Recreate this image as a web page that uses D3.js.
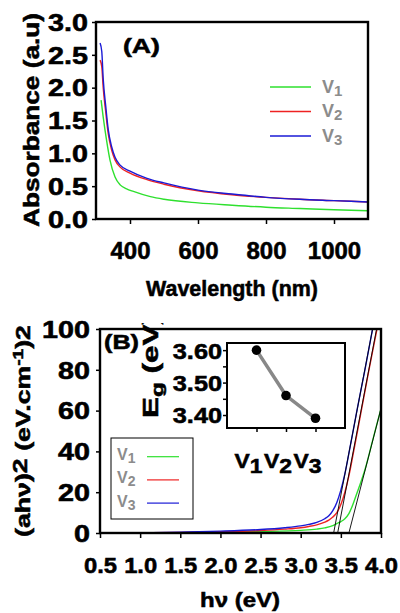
<!DOCTYPE html>
<html><head><meta charset="utf-8">
<script src="https://cdn.jsdelivr.net/npm/d3@7"></script>
<style>
body{margin:0;background:#fff;}
svg text{font-family:"Liberation Sans",Arial,sans-serif;font-weight:bold;}
svg text.heavy{stroke:#000;stroke-width:0.55px;}
</style></head><body>
<svg id="c" width="400" height="613"></svg>
<script>
// ---------- Panel A data ----------
const seriesNames = ["V1","V2","V3"];
const wlV1  = [315,321,331,341,356,371,390,410,460,500,600,700,800,900,1000,1100];
const absV1 = [1.81,1.56,1.20,0.90,0.64,0.52,0.46,0.42,0.34,0.30,0.245,0.21,0.18,0.16,0.14,0.125];
const wlV23 = [312,317,321,329,336,346,356,371,400,450,500,600,700,800,900,1000,1100];
const absV2 = [2.42,2.32,2.01,1.61,1.30,1.05,0.90,0.79,0.70,0.60,0.53,0.43,0.37,0.33,0.30,0.28,0.26];
const absV3 = [2.68,2.55,2.15,1.70,1.36,1.10,0.94,0.82,0.73,0.62,0.55,0.44,0.38,0.33,0.30,0.28,0.26];
const absTicks = [0,0.5,1.0,1.5,2.0,2.5,3.0];
const wlTicks = [400,600,800,1000];

// ---------- Panel B data ----------
const eV1 = [1.15,1.5,2.0,2.5,3.0,3.2,3.3,3.4,3.45,3.5,3.55,3.6,3.65,3.7,3.75,3.8,3.9,4.0];
const tV1 = [0.05,0.15,0.35,0.7,1.3,1.9,2.5,3.6,4.6,5.6,7.0,9.5,14,19.5,25,31,46,61];
const eV2 = [1.15,1.5,2.0,2.5,2.8,3.0,3.1,3.2,3.3,3.35,3.4,3.45,3.5,3.55,3.6,3.65,3.75,3.85,3.95,4.0];
const tV2 = [0.1,0.3,0.6,1.2,1.9,2.6,3.2,4.0,5.3,6.3,7.8,10,14,20,28,38,59,80,100,110];
const eV3 = [1.15,1.5,2.0,2.5,2.8,3.0,3.1,3.2,3.3,3.35,3.4,3.45,3.5,3.55,3.6,3.7,3.8,3.9,3.95];
const tV3 = [0.2,0.45,0.9,1.7,2.6,3.5,4.2,5.2,7.0,8.5,11,15,21,29,39,60,80,101,111];
const tangentStartE = [3.60,3.46,3.41];
const tangentEndE   = [4.0,3.945,3.895];
const tangentEndY   = [61,100,100];
const tVTicks = [0,20,40,60,80,100];
const eTicks = [0.5,1.0,1.5,2.0,2.5,3.0,3.5,4.0];
// inset
const egValues = [3.60,3.46,3.39];
const egTicks = [3.40,3.45,3.50,3.55,3.60];
const egLabelTicks = [3.40,3.50,3.60];

const colors = ["#2ee02e","#ee2222","#1a1ad6"];
const legendGray = "#8c8c8c";

const svg = d3.select("#c");

function fitText(sel, target){
  const w = sel.node().getComputedTextLength();
  const tr = sel.attr("transform") || "";
  sel.attr("transform", tr + " scale(" + (target / w) + ",1)");
}
function subText(g, x, y, main, sub, fs, subFs, dy, fill){
  const t = g.append("text").attr("transform","translate(" + x + "," + y + ")")
    .attr("font-size", fs).attr("fill", fill || "#000");
  t.append("tspan").text(main);
  t.append("tspan").attr("font-size", subFs).attr("dy", dy).text(sub);
  return t;
}
function styleAxis(ax, fs, sx, xOff, yOff){
  ax.select(".domain").remove();
  ax.selectAll("line").attr("stroke","#000").attr("stroke-width",1.5);
  const t = ax.selectAll("text").attr("font-size",fs).attr("fill","#000").attr("class","heavy")
    .attr("transform","scale(" + sx + ",1)");
  if (xOff !== null) t.attr("x", xOff / sx).attr("dy","0.36em");
  if (yOff !== null) t.attr("y", yOff).attr("dy", null);
}

// ================= Panel A =================
const A = {l:96, r:368, t:22, b:219};
const xA = d3.scaleLinear().domain([300,1100]).range([A.l, A.r]);
const yA = d3.scaleLinear().domain([0,3]).range([A.b, A.t]);
const gA = svg.append("g");

const yAxA = gA.append("g").attr("transform","translate(" + A.l + ",0)")
  .call(d3.axisLeft(yA).tickValues(absTicks).tickSize(4).tickFormat(d3.format(".1f")));
styleAxis(yAxA, 23, 1.25, -8, null);

const xAxA = gA.append("g").attr("transform","translate(0," + A.b + ")")
  .call(d3.axisBottom(xA).tickValues(wlTicks).tickSize(5).tickFormat(d3.format("d")));
styleAxis(xAxA, 24, 1.0, null, 40);

const lineA = d3.line().curve(d3.curveMonotoneX);
const dataA = [
  wlV1.map((w,i)=>[xA(w), yA(absV1[i])]),
  wlV23.map((w,i)=>[xA(w), yA(absV2[i])]),
  wlV23.map((w,i)=>[xA(w), yA(absV3[i])])
];
dataA.forEach((d,i)=>{
  gA.append("path").attr("d", lineA(d)).attr("fill","none")
    .attr("stroke", colors[i]).attr("stroke-width",1.4);
});
gA.append("rect").attr("x",A.l).attr("y",A.t).attr("width",A.r-A.l).attr("height",A.b-A.t)
  .attr("fill","none").attr("stroke","#000").attr("stroke-width",2.4);

// (A)
const labA = gA.append("text").attr("class","heavy").attr("transform","translate(123,53)")
  .attr("font-size",21).text("(A)");
fitText(labA, 37);

// legend A
seriesNames.forEach((n,i)=>{
  const y = 87 + i*24.5;
  gA.append("line").attr("x1",270).attr("x2",311).attr("y1",y).attr("y2",y)
    .attr("stroke",colors[i]).attr("stroke-width",1.4);
  subText(gA, 322, y+5.5, "V", n.slice(1), 18, 15, 3, legendGray);
});

// axis titles A
const ytA = gA.append("text").attr("class","heavy").attr("transform","translate(39,120) rotate(-90)")
  .attr("text-anchor","middle").attr("font-size",22).text("Absorbance (a.u)");
fitText(ytA, 214);
const xtA = gA.append("text").attr("class","heavy").attr("transform","translate(232,296)")
  .attr("text-anchor","middle").attr("font-size",22).text("Wavelength (nm)");
fitText(xtA, 172);

// ================= Panel B =================
const B = {l:100, r:381, t:329, b:533};
const xB = d3.scaleLinear().domain([0.5,4.0]).range([B.l, B.r]);
const yB = d3.scaleLinear().domain([0,100]).range([B.b, B.t]);
const gB = svg.append("g");

const defs = svg.append("defs");
defs.append("clipPath").attr("id","clipB").append("rect")
  .attr("x",B.l).attr("y",B.t).attr("width",B.r-B.l).attr("height",B.b-B.t);
defs.append("clipPath").attr("id","clipEg").append("rect")
  .attr("x",0).attr("y",323).attr("width",400).attr("height",200);

const yAxB = gB.append("g").attr("transform","translate(" + B.l + ",0)")
  .call(d3.axisLeft(yB).tickValues(tVTicks).tickSize(4).tickFormat(d3.format("d")));
styleAxis(yAxB, 23, 1.25, -10, null);

const xAxB = gB.append("g").attr("transform","translate(0," + B.b + ")")
  .call(d3.axisBottom(xB).tickValues(eTicks).tickSize(5).tickFormat(d3.format(".1f")));
styleAxis(xAxB, 22, 1.08, null, 40);

const lineB = d3.line().curve(d3.curveMonotoneX).x(d=>xB(d[0])).y(d=>yB(d[1]));
const curvesB = [
  eV1.map((e,i)=>[e,tV1[i]]),
  eV2.map((e,i)=>[e,tV2[i]]),
  eV3.map((e,i)=>[e,tV3[i]])
];
const plotB = gB.append("g").attr("clip-path","url(#clipB)");
curvesB.forEach((d,i)=>{
  plotB.append("path").attr("d", lineB(d)).attr("fill","none")
    .attr("stroke", colors[i]).attr("stroke-width",1.4);
});
tangentStartE.forEach((e0,i)=>{
  plotB.append("line").attr("x1",xB(e0)).attr("y1",yB(0))
    .attr("x2",xB(tangentEndE[i])).attr("y2",yB(tangentEndY[i]))
    .attr("stroke","#000").attr("stroke-width",0.9);
});
gB.append("rect").attr("x",B.l).attr("y",B.t).attr("width",B.r-B.l).attr("height",B.b-B.t)
  .attr("fill","none").attr("stroke","#000").attr("stroke-width",2.4);

// (B)
const labB = gB.append("text").attr("class","heavy").attr("transform","translate(104,349)")
  .attr("font-size",21).text("(B)");
fitText(labB, 35);

// legend B
gB.append("rect").attr("x",111).attr("y",438).attr("width",82).attr("height",81)
  .attr("fill","#fff").attr("stroke","#000").attr("stroke-width",1);
seriesNames.forEach((n,i)=>{
  const y = 456.7 + i*23.2;
  gB.append("line").attr("x1",147).attr("x2",179).attr("y1",y).attr("y2",y)
    .attr("stroke",colors[i]).attr("stroke-width",1.2);
  subText(gB, 117, y+3.5, "V", n.slice(1), 16, 14, 3, legendGray);
});

// inset
const I = {l:227, r:345, t:343, b:428};
const xI = d3.scalePoint().domain(seriesNames).range([I.l, I.r]).padding(1);
const yI = d3.scaleLinear().domain([3.36,3.622]).range([I.b, I.t]);
const gI = gB.append("g");
gI.append("rect").attr("x",I.l).attr("y",I.t).attr("width",I.r-I.l).attr("height",I.b-I.t)
  .attr("fill","#fff").attr("stroke","#000").attr("stroke-width",2);
const yAxI = gI.append("g").attr("transform","translate(" + I.l + ",0)")
  .call(d3.axisLeft(yI).tickValues(egTicks).tickSize(4)
    .tickFormat(d => egLabelTicks.some(v=>Math.abs(v-d)<1e-9) ? d3.format(".2f")(d) : ""));
styleAxis(yAxI, 22, 1.15, -5, null);
const xAxI = gI.append("g").attr("transform","translate(0," + I.b + ")")
  .call(d3.axisBottom(xI).tickSize(4).tickFormat(""));
xAxI.select(".domain").remove();
xAxI.selectAll("line").attr("stroke","#000").attr("stroke-width",1.5);
seriesNames.forEach(n=>{
  const t = subText(gI, xI(n) - 22, 468, "V", n.slice(1), 21, 21, 5, "#000").attr("class","heavy");
  fitText(t, 28);
});
const egLine = d3.line().x(d=>xI(d[0])).y(d=>yI(d[1]));
const egPts = seriesNames.map((n,i)=>[n, egValues[i]]);
gI.append("path").attr("d", egLine(egPts)).attr("fill","none")
  .attr("stroke","#888").attr("stroke-width",3.5);
gI.selectAll("circle.eg").data(egPts).join("circle").attr("class","eg")
  .attr("cx", d=>xI(d[0])).attr("cy", d=>yI(d[1])).attr("r",4.8).attr("fill","#000");

// Eg label (rotated)
const egLab = gB.append("g").attr("clip-path","url(#clipEg)").append("text").attr("class","heavy")
  .attr("transform","translate(158,418) rotate(-90)").attr("font-size",22);
egLab.append("tspan").text("E");
egLab.append("tspan").attr("font-size",17).attr("dy",5).text("g");
egLab.append("tspan").attr("dy",-5).text(" (eV)");
fitText(egLab, 104);

// axis titles B
const ytB = gB.append("text").attr("class","heavy").attr("transform","translate(30,431) rotate(-90)")
  .attr("text-anchor","middle").attr("font-size",21);
ytB.append("tspan").text("(ah\u03bd)");
ytB.append("tspan").attr("dy",-3).text("2");
ytB.append("tspan").attr("dy",3).text("  (eV.cm");
ytB.append("tspan").attr("font-size",15).attr("dy",-7).text("-1");
ytB.append("tspan").attr("dy",7).text(")2");
fitText(ytB, 212);

const xtB = gB.append("text").attr("class","heavy").attr("transform","translate(240,607)")
  .attr("text-anchor","middle").attr("font-size",21).text("h\u03bd (eV)");
fitText(xtB, 80);
</script>
</body></html>
